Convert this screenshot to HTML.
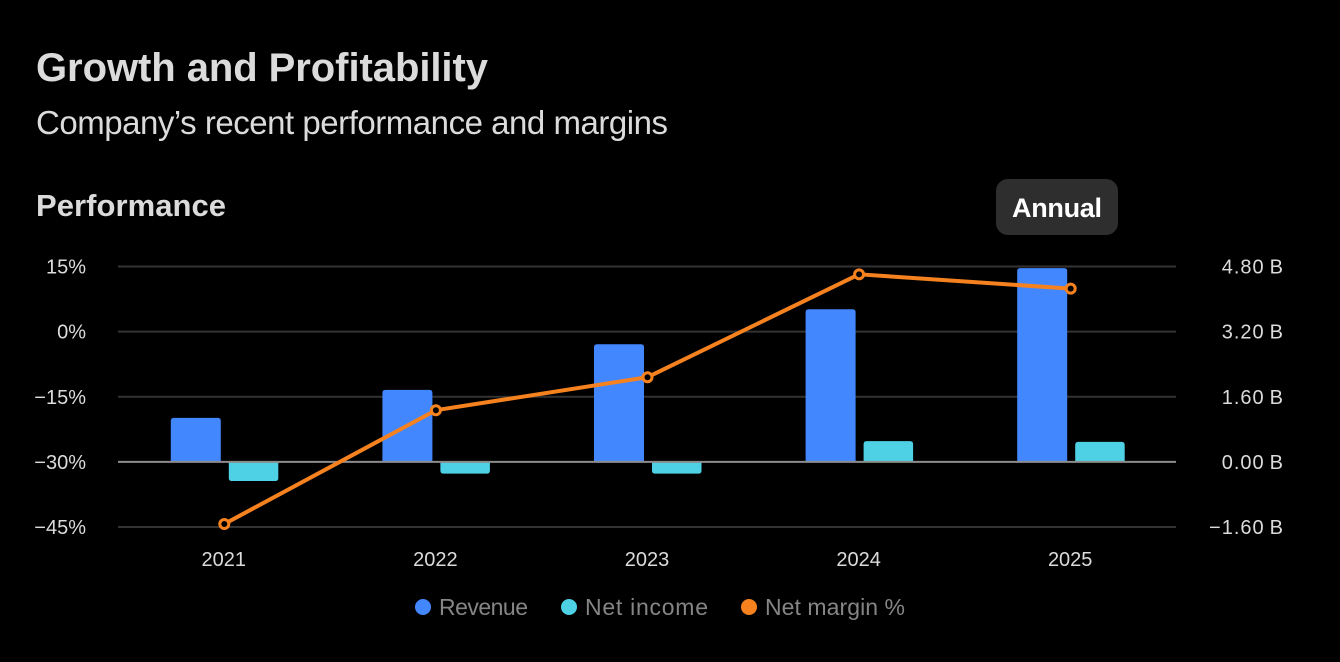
<!DOCTYPE html>
<html lang="en">
<head>
<meta charset="utf-8">
<title>Growth and Profitability</title>
<style>
html,body{margin:0;padding:0;background:#000;width:1340px;height:662px;overflow:hidden}
svg{display:block;font-family:"Liberation Sans",sans-serif}
</style>
</head>
<body>
<svg id="chart" width="1340" height="662" viewBox="0 0 1340 662" xmlns="http://www.w3.org/2000/svg">
  <rect x="0" y="0" width="1340" height="662" fill="#000"/>
  <text x="36" y="81" font-size="40" font-weight="700" fill="#dbdbdb" textLength="452" lengthAdjust="spacing">Growth and Profitability</text>
  <text x="36" y="134" font-size="33" fill="#dbdbdb" textLength="632" lengthAdjust="spacing">Company’s recent performance and margins</text>
  <text x="36" y="216" font-size="31" font-weight="700" fill="#dbdbdb" textLength="190" lengthAdjust="spacing">Performance</text>
  <g>
    <rect x="996" y="179" width="122" height="56" rx="12" fill="#2e2e2e"/>
    <text x="1012" y="217" font-size="27" font-weight="700" fill="#fff" textLength="90" lengthAdjust="spacing">Annual</text>
  </g>
  <g id="grid"></g>
  <g id="bars"></g>
  <g id="zero"></g>
  <g id="line"></g>
  <g id="axes"></g>
  <g id="legend"></g>
</svg>
<script>
const categories = ['2021', '2022', '2023', '2024', '2025'];
const revenue = [1.08, 1.77, 2.89, 3.75, 4.76];
const netIncome = [-0.47, -0.29, -0.29, 0.51, 0.49];
const netMargin = [-44.3, -18.1, -10.5, 13.2, 9.9];
const leftTicks = [15, 0, -15, -30, -45];
const rightTicks = [4.8, 3.2, 1.6, 0, -1.6];
const legendLabels = ['Revenue', 'Net income', 'Net margin %'];

const NS = 'http://www.w3.org/2000/svg';
const plotLeft = 118, plotRight = 1176, plotTop = 266.5, plotBottom = 527;
const BLUE = '#4387ff', CYAN = '#4fd1e5', ORANGE = '#f6821f';

function make(parent, tag, attrs, text) {
  const el = document.createElementNS(NS, tag);
  for (const k in attrs) el.setAttribute(k, attrs[k]);
  if (text !== undefined) el.textContent = text;
  parent.appendChild(el);
  return el;
}
function yRight(v) {
  const top = rightTicks[0], bottom = rightTicks[rightTicks.length - 1];
  return plotTop + (top - v) / (top - bottom) * (plotBottom - plotTop);
}
function yLeft(v) {
  const top = leftTicks[0], bottom = leftTicks[leftTicks.length - 1];
  return plotTop + (top - v) / (top - bottom) * (plotBottom - plotTop);
}
function xCenter(i) {
  return plotLeft + (i + 0.5) * (plotRight - plotLeft) / categories.length;
}
function barPath(x, y0, y1, w, r) {
  const up = y1 < y0;
  const s = up ? 1 : -1;
  const h = Math.abs(y1 - y0);
  const rr = Math.min(r, h);
  return 'M' + x + ' ' + y0 +
    'V' + (y1 + s * rr) +
    'Q' + x + ' ' + y1 + ' ' + (x + rr) + ' ' + y1 +
    'H' + (x + w - rr) +
    'Q' + (x + w) + ' ' + y1 + ' ' + (x + w) + ' ' + (y1 + s * rr) +
    'V' + y0 + 'Z';
}
function fmtLeft(v) {
  return (v < 0 ? '\u2212' + Math.abs(v) : v) + '%';
}
function fmtRight(v) {
  return (v < 0 ? '\u2212' : '') + Math.abs(v).toFixed(2) + '\u2009B';
}

const grid = document.getElementById('grid');
const bars = document.getElementById('bars');
const zero = document.getElementById('zero');
const line = document.getElementById('line');
const axes = document.getElementById('axes');
const legend = document.getElementById('legend');

rightTicks.forEach(function (t) {
  if (t === 0) return;
  const g = make(grid, 'line', {x1: plotLeft, x2: plotRight, y1: yRight(t), y2: yRight(t), stroke: '#333', 'stroke-width': 2});
  
  
});

categories.forEach(function (c, i) {
  const cx = xCenter(i);
  const y0 = yRight(0);
  const r = make(bars, 'path', {d: barPath(cx - 53, y0, yRight(revenue[i]), 50, 3), fill: BLUE});
  
  
  const n = make(bars, 'path', {d: barPath(cx + 5, y0, yRight(netIncome[i]), 49.5, 3), fill: CYAN});
  
  
  const t = make(axes, 'text', {x: cx, y: 566, 'text-anchor': 'middle', 'font-size': 20, fill: '#dbdbdb'}, c);
  
  
});

const zeroLine = make(zero, 'line', {x1: plotLeft, x2: plotRight, y1: yRight(0), y2: yRight(0), stroke: '#8c8c8c', 'stroke-width': 2});



const pts = netMargin.map(function (v, i) { return (xCenter(i) + 0.5) + ' ' + yLeft(v); }).join(' L');
const marginLine = make(line, 'path', {d: 'M' + pts, fill: 'none', stroke: ORANGE, 'stroke-width': 4, 'stroke-linejoin': 'round'});


netMargin.forEach(function (v, i) {
  const p = make(line, 'circle', {cx: xCenter(i) + 0.5, cy: yLeft(v), r: 4.5, fill: '#000', stroke: ORANGE, 'stroke-width': 3});
  
  
});

leftTicks.forEach(function (t) {
  const el = make(axes, 'text', {x: 86, y: yLeft(t) + 7, 'text-anchor': 'end', 'font-size': 20, fill: '#dbdbdb'}, fmtLeft(t));
  
  
});
rightTicks.forEach(function (t) {
  const el = make(axes, 'text', {x: 1284, y: yRight(t) + 7, 'text-anchor': 'end', 'font-size': 20, fill: '#dbdbdb', 'letter-spacing': 1}, fmtRight(t));
  
  
});

const legendColors = [BLUE, CYAN, ORANGE];
const legendDotX = [423, 569, 749];
const legendWidths = [89, 123, 140];
legendLabels.forEach(function (label, i) {
  const g = make(legend, 'g', {});
  
  
  const d = make(g, 'circle', {cx: legendDotX[i], cy: 607, r: 8, fill: legendColors[i]});
  
  
  const t = make(g, 'text', {x: legendDotX[i] + 16, y: 615, 'font-size': 23, fill: '#858585', textLength: legendWidths[i], lengthAdjust: 'spacing'}, label);
  
  
});
</script>
</body>
</html>
